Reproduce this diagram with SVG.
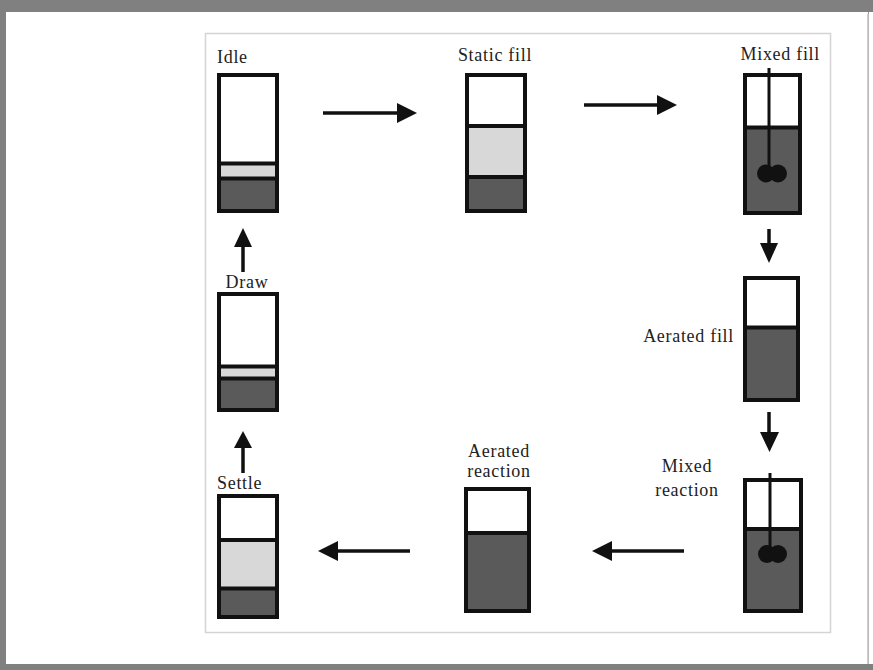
<svg xmlns="http://www.w3.org/2000/svg" width="873" height="670" viewBox="0 0 873 670">
<defs>
<style>
.tank{fill:#fff;stroke:#111;stroke-width:4}
.dark{fill:#5a5a5a}
.light{fill:#d8d8d8}
.div{stroke:#111;stroke-width:4}
.lbl{font-family:"Liberation Serif","Times New Roman",serif;font-size:18px;letter-spacing:0.7px;fill:#222}
.arr{stroke:#111;stroke-width:3.5;fill:none}
.head{fill:#111}
.blob{fill:#111}
</style>
</defs>
<rect x="0" y="0" width="873" height="670" fill="#808080"/>
<rect x="6" y="12" width="862" height="652" fill="#fff"/>
<line x1="868" y1="14" x2="868" y2="664" stroke="#bbb" stroke-width="1.5"/>
<rect x="868.8" y="12" width="4.2" height="652" fill="#fff"/>
<rect x="205.5" y="33.5" width="625" height="599" fill="none" stroke="#d4d4d4" stroke-width="1.5"/>

<g id="idle">
<rect class="tank" x="219" y="75" width="58" height="136"/>
<rect class="light" x="221" y="164" width="54" height="14"/>
<rect class="dark" x="221" y="179" width="54" height="30"/>
<line class="div" x1="219" y1="163.5" x2="277" y2="163.5"/>
<line class="div" x1="219" y1="178.5" x2="277" y2="178.5"/>
<text class="lbl" x="217" y="63">Idle</text>
</g>

<g id="static-fill">
<rect class="tank" x="467" y="75" width="58" height="136"/>
<rect class="light" x="469" y="126" width="54" height="50"/>
<rect class="dark" x="469" y="177" width="54" height="32"/>
<line class="div" x1="467" y1="126" x2="525" y2="126"/>
<line class="div" x1="467" y1="177" x2="525" y2="177"/>
<text class="lbl" x="495" y="61" text-anchor="middle">Static fill</text>
</g>

<g id="mixed-fill">
<rect class="tank" x="745" y="75" width="55" height="138"/>
<rect class="dark" x="747" y="128" width="51" height="83"/>
<line class="div" x1="745" y1="127.5" x2="800" y2="127.5"/>
<line x1="769" y1="68" x2="769" y2="168" stroke="#111" stroke-width="3"/>
<circle class="blob" cx="766" cy="173.5" r="9"/>
<circle class="blob" cx="778" cy="173.5" r="9"/>
<text class="lbl" x="820" y="60" text-anchor="end">Mixed fill</text>
</g>

<g id="aerated-fill">
<rect class="tank" x="745" y="278" width="53" height="122"/>
<rect class="dark" x="747" y="328" width="49" height="70"/>
<line class="div" x1="745" y1="327.5" x2="798" y2="327.5"/>
<text class="lbl" x="734" y="342" text-anchor="end">Aerated fill</text>
</g>

<g id="mixed-reaction">
<rect class="tank" x="745" y="480" width="56" height="131"/>
<rect class="dark" x="747" y="530" width="52" height="79"/>
<line class="div" x1="745" y1="529" x2="801" y2="529"/>
<line x1="770" y1="473" x2="770" y2="550" stroke="#111" stroke-width="3"/>
<circle class="blob" cx="767" cy="554" r="9"/>
<circle class="blob" cx="778" cy="554" r="9"/>
<text class="lbl" x="687" y="472" text-anchor="middle">Mixed</text>
<text class="lbl" x="687" y="496" text-anchor="middle">reaction</text>
</g>

<g id="aerated-reaction">
<rect class="tank" x="466" y="489" width="63" height="122"/>
<rect class="dark" x="468" y="534" width="59" height="75"/>
<line class="div" x1="466" y1="533" x2="529" y2="533"/>
<text class="lbl" x="499" y="457" text-anchor="middle">Aerated</text>
<text class="lbl" x="499" y="477" text-anchor="middle">reaction</text>
</g>

<g id="settle">
<rect class="tank" x="219" y="496" width="58" height="121"/>
<rect class="light" x="221" y="541" width="54" height="47"/>
<rect class="dark" x="221" y="589" width="54" height="26"/>
<line class="div" x1="219" y1="540" x2="277" y2="540"/>
<line class="div" x1="219" y1="588.5" x2="277" y2="588.5"/>
<text class="lbl" x="217" y="489">Settle</text>
</g>

<g id="draw">
<rect class="tank" x="219" y="294" width="58" height="116"/>
<rect class="light" x="221" y="367" width="54" height="11"/>
<rect class="dark" x="221" y="379" width="54" height="29"/>
<line class="div" x1="219" y1="366.5" x2="277" y2="366.5"/>
<line class="div" x1="219" y1="378.5" x2="277" y2="378.5"/>
<text class="lbl" x="247" y="288" text-anchor="middle">Draw</text>
</g>

<g id="connectors">
<line class="arr" x1="323" y1="113" x2="400" y2="113"/>
<polygon class="head" points="397,103 417,113 397,123"/>
<line class="arr" x1="584" y1="105" x2="660" y2="105"/>
<polygon class="head" points="657,95 677,105 657,115"/>
<line class="arr" x1="769" y1="229" x2="769" y2="246"/>
<polygon class="head" points="760,243 778,243 769,263"/>
<line class="arr" x1="769" y1="412" x2="769" y2="435"/>
<polygon class="head" points="760,432 779,432 769.5,452"/>
<line class="arr" x1="684" y1="551" x2="610" y2="551"/>
<polygon class="head" points="612,541 592,551 612,561"/>
<line class="arr" x1="410" y1="551" x2="335" y2="551"/>
<polygon class="head" points="338,541 318,551 338,561"/>
<line class="arr" x1="243" y1="473" x2="243" y2="446"/>
<polygon class="head" points="234,448 252,448 243,431"/>
<line class="arr" x1="243" y1="272" x2="243" y2="244"/>
<polygon class="head" points="234,247 252,247 243,228"/>
</g>
</svg>
